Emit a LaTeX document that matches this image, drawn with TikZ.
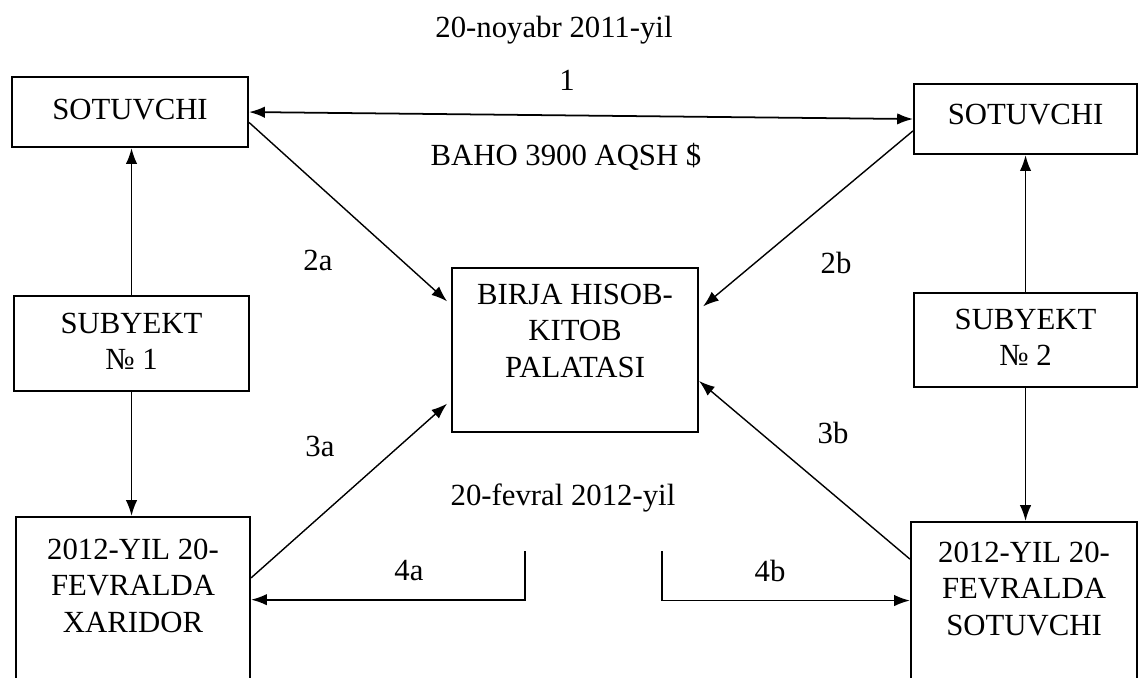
\documentclass[tikz,border=0pt]{standalone}
\usepackage{fontspec}
\setmainfont{Liberation Serif}
\usetikzlibrary{arrows.meta}
\newcommand{\bxt}[1]{\begin{tabular}[t]{@{}c@{}}#1\end{tabular}}
\tikzset{
  bx/.style={draw,line width=1.2pt,inner sep=0pt,anchor=north west},
  >={Latex[length=9pt,width=6.5pt]},
}
\begin{document}
\begin{tikzpicture}[x=0.02cm,y=-0.02cm,font=\fontsize{17.5}{21}\selectfont,line width=1pt]
\useasboundingbox (0,0) rectangle (1138,678);
\clip (0,0) rectangle (1138,678);
% boxes
\node[bx,minimum width=4.72cm,text height=0.84cm,text depth=0.56cm] (sot1) at (11,76) {SOTUVCHI};
\node[bx,minimum width=4.46cm,text height=0.8cm,text depth=0.6cm] (sot2) at (913,83) {SOTUVCHI};
\node[bx,minimum width=4.7cm,text height=0.74cm,text depth=1.16cm] (sub1) at (13,295) {\bxt{SUBYEKT\\№ 1}};
\node[bx,minimum width=4.46cm,text height=0.72cm,text depth=1.16cm] (sub2) at (913,292) {\bxt{SUBYEKT\\№ 2}};
\node[bx,minimum width=4.92cm,text height=0.72cm,text depth=2.56cm] (birja) at (451,267) {\bxt{BIRJA HISOB-\\KITOB\\PALATASI}};
\node[bx,minimum width=4.68cm,text height=0.84cm,text depth=4cm] (xar) at (15,516) {\bxt{2012-YIL 20-\\FEVRALDA\\XARIDOR}};
\node[bx,minimum width=4.52cm,text height=0.8cm,text depth=4cm] (sotb) at (910,521) {\bxt{2012-YIL 20-\\FEVRALDA\\SOTUVCHI}};
% texts
\node (tnoy) at (554,30) {20-noyabr 2011-yil};
\node (tone) at (567,80) {1};
\node (tbaho) at (566,157) {BAHO 3900 AQSH \$};
\node (tfev) at (563,498) {20-fevral 2012-yil};
\foreach \n/\x/\y in {2a/318/260,2b/836/263,3a/320/446,3b/833/433,4a/409/571,4b/770/571}
  \node (l\n) at (\x,\y) {\n};
% arrows
\draw[<->] (sot1.east) -- (sot2.west);
\draw[->] (sub1.north) -- (sub1.north |- sot1.south);
\draw[->] (sub1.south) -- (sub1.south |- xar.north);
\draw[->] (sub2.north) -- (sub2.north |- sot2.south);
\draw[->] (sub2.south) -- (sub2.south |- sotb.north);
\draw[->,line width=0.8pt,shorten >=3pt] (sot1.-5) -- (birja.160);
\draw[->,line width=0.8pt,shorten >=3pt] (sot2.186) -- (birja.18);
\draw[->,line width=0.8pt,shorten >=3pt] (xar.27) -- (birja.202);
\draw[->,line width=0.8pt] (sotb.144) -- (birja.-14);
\coordinate (c4a) at (525,551);
\coordinate (c4b) at (662,551);
\draw[->] (c4a) |- (xar.18);
\draw[->] (c4b) |- (sotb.160);
\end{tikzpicture}
\end{document}
